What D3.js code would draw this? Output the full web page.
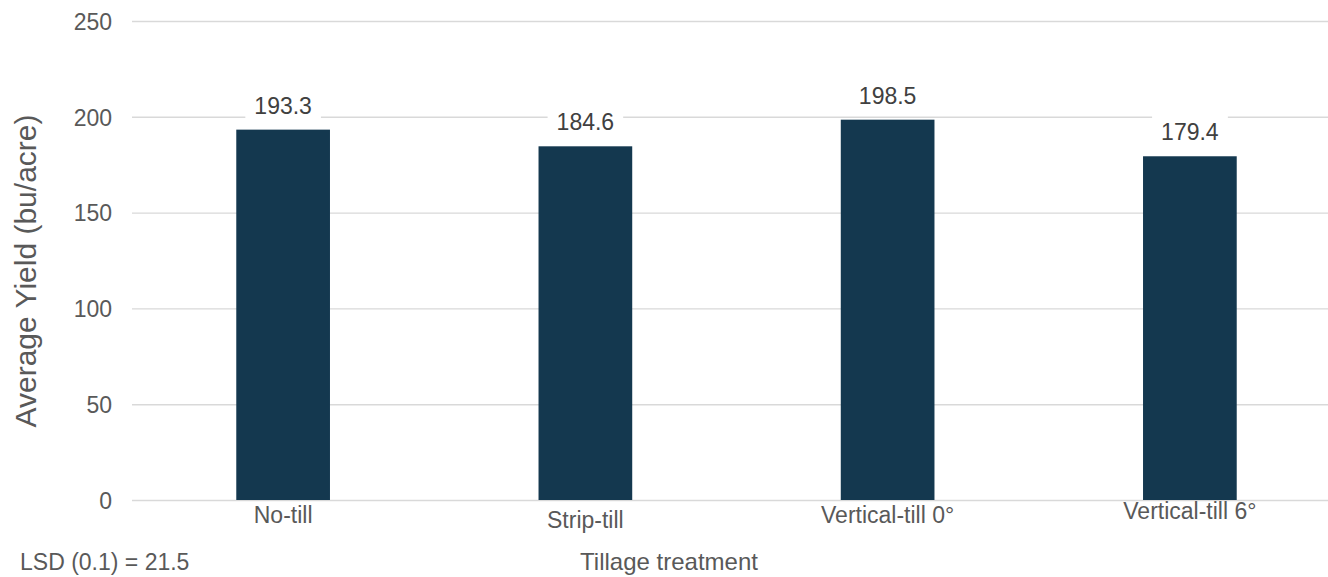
<!DOCTYPE html>
<html>
<head>
<meta charset="utf-8">
<script src="https://cdn.jsdelivr.net/npm/d3@7"></script>
<style>
  html, body { margin: 0; padding: 0; background: #fff; }
  svg { display: block; font-family: "Liberation Sans", Arial, sans-serif; }
</style>
</head>
<body>
<svg id="chart" width="1328" height="577"></svg>
<script>
// Average corn yield by tillage treatment
const categories = ["No-till", "Strip-till", "Vertical-till 0°", "Vertical-till 6°"];
const yieldValues = [193.3, 184.6, 198.5, 179.4];
const yTicks = [0, 50, 100, 150, 200, 250];
const lsdNote = "LSD (0.1) = 21.5";

// small vertical nudges for the category labels (px)
const categoryLabelShift = [0, 5, 0, -4];

const svg = d3.select("#chart");
const W = 1328, H = 577;
const plot = { left: 132, right: 1341, top: 21, bottom: 500 };

const x = d3.scaleBand()
  .domain(categories)
  .range([plot.left, plot.right])
  .paddingInner(0.69)
  .paddingOuter(0.345);

const y = d3.scaleLinear()
  .domain([0, 250])
  .range([plot.bottom, plot.top]);

// horizontal gridlines with tick labels
const yAxis = d3.axisLeft(y)
  .tickValues(yTicks)
  .tickSize(-(W - plot.left))
  .tickPadding(20)
  .tickFormat(d3.format("d"));

const gy = svg.append("g")
  .attr("transform", `translate(${plot.left},0)`)
  .call(yAxis);
gy.select(".domain").remove();
gy.selectAll(".tick line")
  .attr("stroke", "#d9d9d9")
  .attr("stroke-width", 1.4);
gy.selectAll(".tick text")
  .attr("fill", "#595959")
  .attr("font-size", 23)
  .attr("dy", "0.36em");

// bars
svg.append("g")
  .selectAll("rect")
  .data(yieldValues)
  .join("rect")
  .attr("x", (d, i) => x(categories[i]))
  .attr("width", x.bandwidth())
  .attr("y", d => y(d))
  .attr("height", d => y(0) - y(d))
  .attr("fill", "#14384f");

// value labels on white boxes
const labels = svg.append("g")
  .selectAll("g")
  .data(yieldValues)
  .join("g")
  .attr("transform", (d, i) => `translate(${x(categories[i]) + x.bandwidth() / 2},${y(d) - 16})`);

labels.append("text")
  .attr("text-anchor", "middle")
  .attr("font-size", 23)
  .attr("fill", "#404040")
  .text(d => d.toFixed(1));

labels.each(function () {
  const g = d3.select(this);
  const bb = g.select("text").node().getBBox();
  g.insert("rect", "text")
    .attr("x", bb.x - 9)
    .attr("y", bb.y - 4)
    .attr("width", bb.width + 18)
    .attr("height", bb.height + 6)
    .attr("fill", "#fff");
});

// category labels
svg.append("g")
  .selectAll("text")
  .data(categories)
  .join("text")
  .attr("x", d => x(d) + x.bandwidth() / 2)
  .attr("y", (d, i) => 523 + categoryLabelShift[i])
  .attr("text-anchor", "middle")
  .attr("font-size", 23)
  .attr("fill", "#595959")
  .text(d => d);

// axis titles
svg.append("text")
  .attr("x", 669)
  .attr("y", 570)
  .attr("text-anchor", "middle")
  .attr("font-size", 24)
  .attr("fill", "#595959")
  .text("Tillage treatment");

svg.append("text")
  .attr("transform", "translate(36,271) rotate(-90)")
  .attr("text-anchor", "middle")
  .attr("font-size", 30)
  .attr("fill", "#595959")
  .text("Average Yield (bu/acre)");

// significance note
svg.append("text")
  .attr("x", 20)
  .attr("y", 570)
  .attr("font-size", 23)
  .attr("fill", "#595959")
  .text(lsdNote);
</script>
</body>
</html>
